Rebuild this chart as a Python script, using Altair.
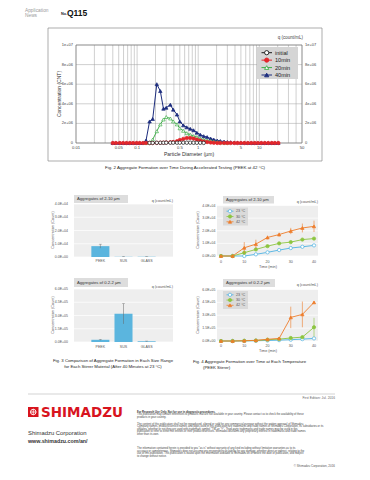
import altair as alt
import pandas as pd

FONT = "Liberation Sans"
ONE = pd.DataFrame({"k": [0]})

# ---------------- Fig. 2 data (concentration in units of 1e6 CNT) ----------------
diam = [0.04, 0.045, 0.052, 0.059, 0.067, 0.076, 0.086, 0.098, 0.11, 0.125,
        0.14, 0.16, 0.18, 0.21, 0.24, 0.27, 0.30, 0.35, 0.39, 0.45,
        0.50, 0.57, 0.65, 0.74, 0.84, 0.95, 1.08, 1.23, 1.40, 1.60,
        1.80, 2.05, 2.30, 2.65, 3.00, 3.40, 3.90, 4.40, 5.00, 5.70,
        6.50, 7.40, 8.40, 9.50, 10.8, 12.3, 14.0, 16.0, 18.0, 20.5]
series_names = ["initial", "10min", "20min", "40min"]
conc_initial = [None] * 11 + [0.01, 0.01, 0.02, 0.02, 0.02, 0.03, 0.03, 0.03, 0.03, 0.03,
                              0.03, 0.03, 0.03, 0.02, 0.02, 0.02, 0.01] + [None] * 22
conc_10min = [0, 0, 0, 0, 0, 0, 0, 0, 0, 0,
              0, 0, 0, 0.02, 0.03, 0.04, 0.05, 0.07, 0.10, 0.18,
              0.30, 0.42, 0.50, 0.52, 0.45, 0.35, 0.25, 0.15, 0.10, 0.05,
              0.02, 0, 0, 0, 0, 0, 0, 0, 0, 0,
              0, 0, 0, 0, 0, 0, 0, 0, 0, 0]
conc_20min = [None] * 10 + [0, 0.05, 0.35, 1.2, 1.9, 2.4, 2.65, 2.5, 2.2, 1.9,
                            1.5, 1.25, 1.0, 0.85, 0.7, 0.6, 0.45, 0.35, 0.25, 0.2,
                            0.15, 0.1, 0.07, 0.04, 0.02] + [None] * 15
conc_40min = [0, 0, 0, 0, 0, 0, 0, 0, 0, 0,
              0.25, 2.2, 2.45, 6.0, 5.3, 3.5, 3.6, 3.9, 3.4, 2.9,
              2.2, 1.8, 1.6, 1.45, 1.3, 1.05, 0.85, 0.7, 0.6, 0.45,
              0.35, 0.25, 0.2, 0.15, 0.1, 0.08, 0.05, 0.04, 0.03, 0.02,
              0.01, 0.01, 0, 0, 0, 0, 0, 0, 0, 0]
fig2_xgrid = [0.01, 0.02, 0.03, 0.04, 0.05, 0.06, 0.07, 0.08, 0.09,
              0.1, 0.2, 0.3, 0.4, 0.5, 0.6, 0.7, 0.8, 0.9,
              1, 2, 3, 4, 5, 6, 7, 8, 9, 10, 20, 30, 40, 50]
fig2_xticks = [0.01, 0.05, 0.1, 0.5, 1, 5, 10, 50]
fig2_xlabels = ["0.01", "0.05", "0.1", "0.5", "1", "5", "10", "50"]
fig2_yticks = [0, 2, 4, 6, 8, 10]
fig2_ylabels = ["0", "2e+06", "4e+06", "6e+06", "8e+06", "1e+07"]

# ---------------- Fig. 3 data ----------------
materials = ["PEEK", "SUS", "GLASS"]
agg_2_10_mean = [8200, 150, 200]
agg_2_10_err = [1500, 150, 150]
agg_02_2_mean = [25000, 320000, 8000]
agg_02_2_err = [6000, 115000, 3000]

# ---------------- Fig. 4 data ----------------
times = [0, 5, 10, 15, 20, 25, 30, 35, 40]
temps = ["23 °C", "30 °C", "42 °C"]
b_23 = [0, 0, 0, 1300, 2900, 4700, 6300, 7300, 8400]
b_23_err = [0, 0, 0, 200, 300, 300, 300, 400, 400]
b_30 = [0, 0, 2600, 5200, 7800, 10000, 11000, 13000, 13800]
b_30_err = [0, 0, 500, 600, 700, 800, 700, 800, 800]
b_42 = [0, 0, 6500, 9400, 14700, 17000, 19800, 22200, 23500]
b_42_err = [0, 0, 4500, 3500, 1500, 1500, 2500, 3500, 4500]
d_23 = [0, 0, 1000, 3000, 6000, 10000, 15000, 22000, 30000]
d_23_err = [0, 0, 500, 1000, 2000, 3000, 3000, 4000, 5000]
d_30 = [0, 0, 3000, 6000, 15000, 22000, 35000, 45000, 160000]
d_30_err = [0, 0, 1500, 3000, 5000, 8000, 10000, 15000, 110000]
d_42 = [0, 0, 3000, 8000, 20000, 30000, 275000, 310000, 450000]
d_42_err = [0, 0, 2000, 3000, 8000, 10000, 125000, 150000, 15000]
ticks_2_10 = [0, 10000, 20000, 30000, 40000]
labels_2_10 = ["0.0E+00", "1.0E+04", "2.0E+04", "3.0E+04", "4.0E+04"]
ticks_02_2 = [0, 150000, 300000, 450000, 600000]
labels_02_2 = ["0.0E+00", "1.5E+05", "3.0E+05", "4.5E+05", "6.0E+05"]
time_ticks = [0, 10, 20, 30, 40]
time_labels = ["0", "10", "20", "30", "40"]


# ---------------- helpers ----------------
def T(s, x, y, size=4.0, align="left", baseline="middle", color="#333333",
      weight="normal", angle=None, font=FONT, lh=None):
    kw = dict(align=align, baseline=baseline, fontSize=size, color=color,
              font=font, fontWeight=weight)
    if angle is not None:
        kw["angle"] = angle
    if lh is not None:
        kw["lineHeight"] = lh
    return alt.Chart(ONE).mark_text(**kw).encode(
        x=alt.value(x), y=alt.value(y), text=alt.value(s))


def R(x, x2, y, y2, fill=None, stroke=None, sw=0.6):
    kw = {}
    if fill is None:
        kw["fill"] = "white"
        kw["fillOpacity"] = 0
    else:
        kw["fill"] = fill
    if stroke is not None:
        kw["stroke"] = stroke
        kw["strokeWidth"] = sw
    return alt.Chart(ONE).mark_rect(**kw).encode(
        x=alt.value(x), x2=alt.value(x2), y=alt.value(y), y2=alt.value(y2))


def L(x, x2, y, y2, color, sw):
    return alt.Chart(ONE).mark_rule(color=color, strokeWidth=sw).encode(
        x=alt.value(x), x2=alt.value(x2), y=alt.value(y), y2=alt.value(y2))


outer = []

# ---------------- Header ----------------
outer += [
    T("Application", 17, 3, size=4.8, color="#9a9a9a"),
    T("News", 17, 8, size=4.8, color="#9a9a9a"),
    T("No.", 53, 5.8, size=3.8, weight="bold", color="#222222"),
    T("Q115", 59, 5.2, size=8.5, weight="bold", color="#111111"),
]

# ---------------- Fig. 2 ----------------
fx = alt.Scale(type="log", domain=[0.01, 50], range=[68, 294], nice=False)
fy = alt.Scale(domain=[0, 10], range=[135, 37], nice=False, zero=False)

rows = []
for name, vals in zip(series_names, [conc_initial, conc_10min, conc_20min, conc_40min]):
    for d, v in zip(diam, vals):
        if v is not None:
            rows.append({"series": name, "d": d, "c": v})
fig2_df = pd.DataFrame(rows)

style2 = {
    "initial": ("#1a1a1a", "circle", "white"),
    "10min": ("#e3262b", "circle", "#e3262b"),
    "20min": ("#3fae49", "triangle-up", "white"),
    "40min": ("#1d2d7e", "triangle-up", "#1d2d7e"),
}

outer.append(R(40, 314, 20, 153, stroke="#8a8a8a", sw=0.7))
fig2 = [
    R(68, 294, 37, 135, fill="white"),
    alt.Chart(pd.DataFrame({"g": fig2_xgrid})).mark_rule(color="#a0a0a0", strokeWidth=0.5).encode(
        x=alt.X("g:Q", scale=fx, axis=None), y=alt.value(37), y2=alt.value(135)),
    alt.Chart(pd.DataFrame({"g": fig2_yticks})).mark_rule(color="#a0a0a0", strokeWidth=0.5).encode(
        y=alt.Y("g:Q", scale=fy, axis=None), x=alt.value(68), x2=alt.value(294)),
    R(68, 294, 37, 135, stroke="#6f6f6f", sw=0.6),
]
for name in ["40min", "20min", "10min", "initial"]:
    col, shp, fil = style2[name]
    base = alt.Chart(fig2_df[fig2_df["series"] == name]).encode(
        x=alt.X("d:Q", scale=fx, axis=None), y=alt.Y("c:Q", scale=fy, axis=None))
    fig2.append(base.mark_line(color=col, strokeWidth=1.0))
    fig2.append(base.mark_point(shape=shp, filled=True, fill=fil, stroke=col,
                                strokeWidth=0.7, size=12, opacity=1))
fig2.append(alt.Chart(pd.DataFrame({"v": fig2_xticks, "t": fig2_xlabels})).mark_text(
    fontSize=4.2, font=FONT, color="#444444", baseline="middle").encode(
    x=alt.X("v:Q", scale=fx, axis=None), y=alt.value(140), text="t:N"))
ydf2 = pd.DataFrame({"v": fig2_yticks, "t": fig2_ylabels})
fig2.append(alt.Chart(ydf2).mark_text(fontSize=4.0, font=FONT, color="#444444", align="right",
                                      baseline="middle").encode(
    y=alt.Y("v:Q", scale=fy, axis=None), x=alt.value(65), text="t:N"))
fig2.append(alt.Chart(ydf2).mark_text(fontSize=4.0, font=FONT, color="#444444", align="left",
                                      baseline="middle").encode(
    y=alt.Y("v:Q", scale=fy, axis=None), x=alt.value(297), text="t:N"))
outer.append(alt.layer(*fig2))

outer += [
    T("q (count/mL)", 295, 30, size=4.5, align="right", color="#444444"),
    T("Particle Diameter (µm)", 181, 145.5, size=5.0, align="center", color="#333333"),
    T("Concentration (CNT)", 51, 86, size=5.0, align="center", angle=270, color="#333333"),
    T("Fig. 2  Aggregate Formation over Time During Accelerated Testing (PEEK at 42 °C)",
      177, 159.5, size=4.4, align="center", color="#222222"),
]

ly2 = alt.Scale(type="point", domain=series_names, range=[44.7, 67], padding=0)
leg2 = [R(249, 290, 39, 71, fill="#d5d5d5")]
for name in series_names:
    col, shp, fil = style2[name]
    b = alt.Chart(pd.DataFrame({"s": [name]})).encode(y=alt.Y("s:N", scale=ly2, axis=None))
    leg2.append(b.mark_rule(color=col, strokeWidth=1.0).encode(x=alt.value(253.5), x2=alt.value(264)))
    leg2.append(b.mark_point(shape=shp, filled=True, fill=fil, stroke=col, strokeWidth=0.9,
                             size=18, opacity=1).encode(x=alt.value(258.7)))
    leg2.append(b.mark_text(align="left", baseline="middle", fontSize=5.6, font=FONT,
                            color="#222222").encode(x=alt.value(267), text="s:N"))
outer.append(alt.layer(*leg2))


# ---------------- Fig. 3 bar panels ----------------
def bar_panel(vals, errs, ymax, yr, tvals, tlabels, lab_y):
    xs = alt.Scale(type="band", domain=materials, range=[66, 165], paddingInner=0.22, paddingOuter=0.75)
    ys = alt.Scale(domain=[0, ymax], range=yr, nice=False)
    df = pd.DataFrame({"m": materials, "v": vals,
                       "lo": [max(0, v - e) for v, e in zip(vals, errs)],
                       "hi": [v + e for v, e in zip(vals, errs)]})
    tdf = pd.DataFrame({"v": tvals, "t": tlabels})
    X = alt.X("m:N", scale=xs, axis=None)
    lay = [
        R(66, 165, yr[1], yr[0], fill="#eeeeee"),
        alt.Chart(tdf).mark_rule(color="#ffffff", strokeWidth=0.7).encode(
            y=alt.Y("v:Q", scale=ys, axis=None), x=alt.value(66), x2=alt.value(165)),
        alt.Chart(df).mark_bar(color="#5bb5de").encode(x=X, y=alt.Y("v:Q", scale=ys, axis=None)),
        alt.Chart(df).mark_rule(color="#666666", strokeWidth=0.5).encode(
            x=X, y=alt.Y("lo:Q", scale=ys, axis=None), y2="hi:Q"),
        alt.Chart(df).mark_tick(orient="horizontal", size=3, thickness=0.5, color="#666666").encode(
            x=X, y=alt.Y("hi:Q", scale=ys, axis=None)),
        alt.Chart(df).mark_text(fontSize=3.6, font=FONT, color="#555555", baseline="middle").encode(
            x=X, y=alt.value(lab_y), text="m:N"),
        alt.Chart(tdf).mark_text(fontSize=3.5, font=FONT, color="#555555", align="right",
                                 baseline="middle").encode(
            y=alt.Y("v:Q", scale=ys, axis=None), x=alt.value(60), text="t:N"),
    ]
    return alt.layer(*lay)


outer += [
    R(66, 120, 187, 195, fill="#dddddd"),
    T("Aggregates of 2-10 µm", 69, 191, size=4.2, color="#333333"),
    T("q (count/mL)", 165, 193, size=3.8, align="right", color="#555555"),
    bar_panel(agg_2_10_mean, agg_2_10_err, 40000, [249, 196], ticks_2_10, labels_2_10, 253),
    T("Concentration (Count)", 45, 222, size=3.8, align="center", angle=270, color="#555555"),
    R(66, 120, 270, 279, fill="#dddddd"),
    T("Aggregates of 0.2-2 µm", 69, 274.5, size=4.2, color="#333333"),
    T("q (count/mL)", 165, 279, size=3.8, align="right", color="#555555"),
    bar_panel(agg_02_2_mean, agg_02_2_err, 600000, [334, 281], ticks_02_2, labels_02_2, 339),
    T("Concentration (Count)", 45, 307, size=3.8, align="center", angle=270, color="#555555"),
    T(["Fig. 3  Comparison of Aggregate Formation in Each Size Range",
       "for Each Stirrer Material (After 40 Minutes at 23 °C)"],
      105, 350.8, size=4.3, align="center", baseline="top", color="#222222", lh=6),
]

# ---------------- Fig. 4 line panels ----------------
style4 = {
    "23 °C": ("#4db2e3", "circle", "white"),
    "30 °C": ("#8cc540", "circle", "#8cc540"),
    "42 °C": ("#ee7d2b", "triangle-up", "#ee7d2b"),
}


def line_panel(svals, serrs, ymax, yr, tvals, tlabels, lab_y):
    xs = alt.Scale(domain=[0, 40], range=[213, 306], nice=False)
    ys = alt.Scale(domain=[0, ymax], range=yr, nice=False)
    tdf = pd.DataFrame({"v": tvals, "t": tlabels})
    lay = [
        R(209, 310, yr[1], yr[0], fill="#eeeeee"),
        alt.Chart(tdf).mark_rule(color="#ffffff", strokeWidth=0.7).encode(
            y=alt.Y("v:Q", scale=ys, axis=None), x=alt.value(209), x2=alt.value(310)),
    ]
    for temp, vals, errs in zip(temps, svals, serrs):
        col, shp, fil = style4[temp]
        df = pd.DataFrame({"t": times, "v": vals,
                           "lo": [max(0, v - e) for v, e in zip(vals, errs)],
                           "hi": [v + e for v, e in zip(vals, errs)]})
        base = alt.Chart(df).encode(x=alt.X("t:Q", scale=xs, axis=None))
        lay.append(base.mark_rule(color=col, strokeWidth=0.6).encode(
            y=alt.Y("lo:Q", scale=ys, axis=None), y2="hi:Q"))
        lay.append(base.mark_line(color=col, strokeWidth=0.9).encode(
            y=alt.Y("v:Q", scale=ys, axis=None)))
        lay.append(base.mark_point(shape=shp, filled=True, fill=fil, stroke=col, strokeWidth=0.7,
                                   size=11, opacity=1).encode(y=alt.Y("v:Q", scale=ys, axis=None)))
    lay.append(alt.Chart(pd.DataFrame({"v": time_ticks, "t": time_labels})).mark_text(
        fontSize=3.6, font=FONT, color="#555555", baseline="middle").encode(
        x=alt.X("v:Q", scale=xs, axis=None), y=alt.value(lab_y), text="t:N"))
    lay.append(alt.Chart(tdf).mark_text(fontSize=3.5, font=FONT, color="#555555", align="right",
                                        baseline="middle").encode(
        y=alt.Y("v:Q", scale=ys, axis=None), x=alt.value(207.5), text="t:N"))
    return alt.layer(*lay)


def temp_legend(x0, x1, y0, y1, yr):
    ly = alt.Scale(type="point", domain=temps, range=yr, padding=0)
    lay = [R(x0, x1, y0, y1, fill="#dadada")]
    for temp in temps:
        col, shp, fil = style4[temp]
        b = alt.Chart(pd.DataFrame({"s": [temp]})).encode(y=alt.Y("s:N", scale=ly, axis=None))
        lay.append(b.mark_rule(color=col, strokeWidth=0.8).encode(x=alt.value(218.5), x2=alt.value(225.5)))
        lay.append(b.mark_point(shape=shp, filled=True, fill=fil, stroke=col, strokeWidth=0.7,
                                size=11, opacity=1).encode(x=alt.value(222)))
        lay.append(b.mark_text(align="left", baseline="middle", fontSize=3.7, font=FONT,
                               color="#555555").encode(x=alt.value(228), text="s:N"))
    return alt.layer(*lay)


outer += [
    R(215, 266, 188, 195.5, fill="#dddddd"),
    T("Aggregates of 2-10 µm", 218, 191.8, size=4.2, color="#333333"),
    T("q (count/mL)", 310, 194, size=3.8, align="right", color="#555555"),
    line_panel([b_23, b_30, b_42], [b_23_err, b_30_err, b_42_err], 40000, [248, 197.5],
               ticks_2_10, labels_2_10, 253.5),
    temp_legend(215, 240, 199.5, 217.5, [203.2, 213.8]),
    T("Concentration (Count)", 190, 222, size=3.8, align="center", angle=270, color="#555555"),
    T("Time (min)", 260, 258.7, size=3.8, align="center", color="#555555"),
    R(215, 267, 271, 279, fill="#dddddd"),
    T("Aggregates of 0.2-2 µm", 218, 275, size=4.2, color="#333333"),
    T("q (count/mL)", 310, 277, size=3.8, align="right", color="#555555"),
    line_panel([d_23, d_30, d_42], [d_23_err, d_30_err, d_42_err], 600000, [333, 281.5],
               ticks_02_2, labels_02_2, 338),
    temp_legend(215, 240, 283, 301, [286.8, 297.3]),
    T("Concentration (Count)", 190, 307, size=3.8, align="center", angle=270, color="#555555"),
    T("Time (min)", 260, 343.2, size=3.8, align="center", color="#555555"),
    T("Fig. 4  Aggregate Formation over Time at Each Temperature", 185, 353.8, size=4.3,
      color="#222222"),
    T("(PEEK Stirrer)", 195, 359.8, size=4.3, color="#222222"),
]

# ---------------- Footer ----------------
outer += [
    L(20, 327, 386, 386, "#b5b5b5", 0.6),
    T("First Edition: Jul. 2016", 327, 389.5, size=3.3, align="right", color="#666666"),
    R(20, 30.5, 399, 409, fill="#d8141e"),
    alt.Chart(ONE).mark_point(shape="circle", filled=False, stroke="white", strokeWidth=0.9,
                              size=30, opacity=1).encode(x=alt.value(25.25), y=alt.value(404)),
    L(25.25, 25.25, 400.9, 407.1, "white", 0.8),
    L(22.15, 28.35, 404, 404, "white", 0.8),
    T("SHIMADZU", 33, 404.5, size=13.5, weight="bold", color="#d8141e", font="DejaVu Sans"),
    T("Shimadzu Corporation", 20, 424.5, size=5.9, color="#333333"),
    T("www.shimadzu.com/an/", 20, 433, size=5.3, weight="bold", color="#333333"),
    T("For Research Use Only. Not for use in diagnostic procedures.", 129, 404.3, size=2.7,
      weight="bold", color="#333333"),
    T(["This publication may contain references to products that are not available in your country. Please contact us to check the availability of these",
       "products in your country."], 129, 405.4, size=2.7, baseline="top", color="#444444", lh=2.5),
    T(["The content of this publication shall not be reproduced, altered or sold for any commercial purpose without the written approval of Shimadzu.",
       "Company names, products/service names and logos used in this publication are trademarks and trade names of Shimadzu Corporation, its subsidiaries or its",
       "affiliates, whether or not they are used with trademark symbol “TM” or “®”. Third-party trademarks and trade names may be used in this",
       "publication to refer to either the entities or their products/services. Shimadzu disclaims any proprietary interest in trademarks and trade names",
       "other than its own."], 129, 414.7, size=2.7, baseline="top", color="#444444", lh=2.5),
    T(["The information contained herein is provided to you “as is” without warranty of any kind including without limitation warranties as to its",
       "accuracy or completeness. Shimadzu does not assume any responsibility or liability for any damage, whether direct or indirect, relating to the",
       "use of this publication. This publication is based upon the information available to Shimadzu on or before the date of publication, and subject",
       "to change without notice."], 129, 439, size=2.7, baseline="top", color="#444444", lh=2.5),
    T("© Shimadzu Corporation, 2016", 327, 458, size=3.0, align="right", color="#555555"),
]

chart = alt.layer(*outer).resolve_scale(x="independent", y="independent").properties(
    width=354, height=464, autosize=alt.AutoSizeParams(type="none"), padding=0,
    background="white",
).configure_view(stroke=None)

chart.save("out.html", embed_options={"renderer": "svg", "actions": False})
